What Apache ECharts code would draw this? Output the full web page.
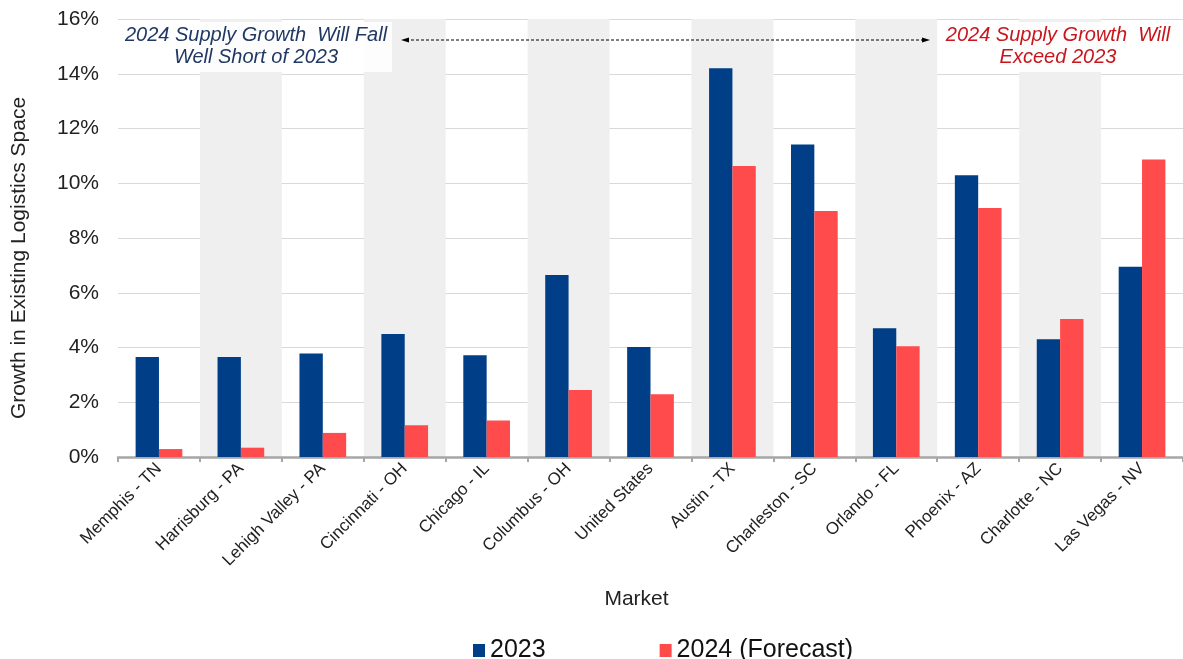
<!DOCTYPE html>
<html>
<head>
<meta charset="utf-8">
<script src="https://cdn.jsdelivr.net/npm/echarts@6/dist/echarts.min.js"></script>
<style>
  html, body { margin: 0; padding: 0; background: #fff; }
  #chart { width: 1183px; height: 659px; }
</style>
</head>
<body>
<div id="chart"></div>
<script>
// data
const markets = ['Memphis - TN', 'Harrisburg - PA', 'Lehigh Valley - PA', 'Cincinnati - OH', 'Chicago - IL',
  'Columbus - OH', 'United States', 'Austin - TX', 'Charleston - SC', 'Orlando - FL', 'Phoenix - AZ',
  'Charlotte - NC', 'Las Vegas - NV']
const growth2023 = [3.65, 3.65, 3.78, 4.49, 3.72, 6.65, 4.02, 14.2, 11.42, 4.7, 10.29, 4.3, 6.95]
const growth2024 = [0.29, 0.34, 0.88, 1.16, 1.33, 2.45, 2.29, 10.63, 8.99, 4.05, 9.1, 5.04, 10.87]
const yTicks = [0, 2, 4, 6, 8, 10, 12, 14, 16]

const FONT = '"Liberation Sans", Arial, sans-serif'

const chart = echarts.init(document.getElementById('chart'))

const option = {
  animation: false,
  textStyle: { fontFamily: FONT },
  grid: {
    left: 118,
    right: -7,
    top: 19,
    bottom: 202,
  },
  legend: {
    left: 468,
    top: 633,
    itemWidth: 12,
    itemHeight: 13,
    itemGap: 114,
    icon: 'rect',
    textStyle: { fontSize: 25, color: '#111', fontFamily: FONT },
    data: ['2023', '2024 (Forecast)'],
  },
  xAxis: {
    type: 'category',
    data: markets,
    name: 'Market',
    nameLocation: 'middle',
    nameGap: 132,
    nameTextStyle: { fontSize: 21, color: '#222', padding: [0, 28, 0, 0] },
    axisLine: { lineStyle: { color: '#a6a6a6', width: 2.5 } },
    axisTick: { show: true, length: 5, lineStyle: { color: '#a6a6a6', width: 2 } },
    axisLabel: {
      interval: 0,
      rotate: 45,
      margin: 9,
      fontSize: 17,
      color: '#222',
    },
    splitArea: {
      show: true,
      areaStyle: { color: ['rgba(255,255,255,0)', '#efefef'] },
    },
  },
  yAxis: {
    type: 'value',
    min: yTicks[0],
    max: yTicks[yTicks.length - 1],
    interval: 2,
    name: 'Growth in Existing Logistics Space',
    nameLocation: 'middle',
    nameGap: 88,
    nameTextStyle: { fontSize: 21, color: '#222', padding: [0, 40, 0, 0] },
    axisLine: { show: false },
    axisTick: { show: false },
    axisLabel: {
      fontSize: 21,
      color: '#222',
      margin: 19,
      formatter: v => v + '%',
    },
    splitLine: { lineStyle: { color: '#d9d9d9', width: 1 } },
  },
  series: [
    {
      name: '2023',
      type: 'bar',
      data: growth2023,
      barGap: '0%',
      barCategoryGap: '43%',
      itemStyle: { color: '#003f88' },
    },
    {
      name: '2024 (Forecast)',
      type: 'bar',
      data: growth2024,
      barGap: '0%',
      barCategoryGap: '43%',
      itemStyle: { color: '#ff4b4b' },
    },
  ],
  graphic: [
    // left note
    {
      type: 'rect',
      shape: { x: 120, y: 22, width: 272, height: 50 },
      style: { fill: 'rgba(255,255,255,0.85)' },
      z: 50,
    },
    {
      type: 'text',
      x: 256,
      y: 24,
      z: 51,
      style: {
        text: '2024 Supply Growth  Will Fall\nWell Short of 2023',
        font: 'italic 20px ' + FONT,
        fill: '#1f3864',
        align: 'center',
        lineHeight: 22,
      },
    },
    // right note
    {
      type: 'rect',
      shape: { x: 943, y: 22, width: 240, height: 50 },
      style: { fill: 'rgba(255,255,255,0.85)' },
      z: 50,
    },
    {
      type: 'text',
      x: 1058,
      y: 24,
      z: 51,
      style: {
        text: '2024 Supply Growth  Will\nExceed 2023',
        font: 'italic 20px ' + FONT,
        fill: '#c8161d',
        align: 'center',
        lineHeight: 22,
      },
    },
    // dashed double arrow
    {
      type: 'line',
      shape: { x1: 406, y1: 40, x2: 924, y2: 40 },
      style: { stroke: '#000', lineWidth: 1, lineDash: [3, 2] },
      z: 52,
    },
    {
      type: 'polygon',
      shape: { points: [[401, 40], [409, 37.5], [409, 42.5]] },
      style: { fill: '#000' },
      z: 52,
    },
    {
      type: 'polygon',
      shape: { points: [[930, 40], [922, 37.5], [922, 42.5]] },
      style: { fill: '#000' },
      z: 52,
    },
  ],
}

chart.setOption(option)
</script>
</body>
</html>
